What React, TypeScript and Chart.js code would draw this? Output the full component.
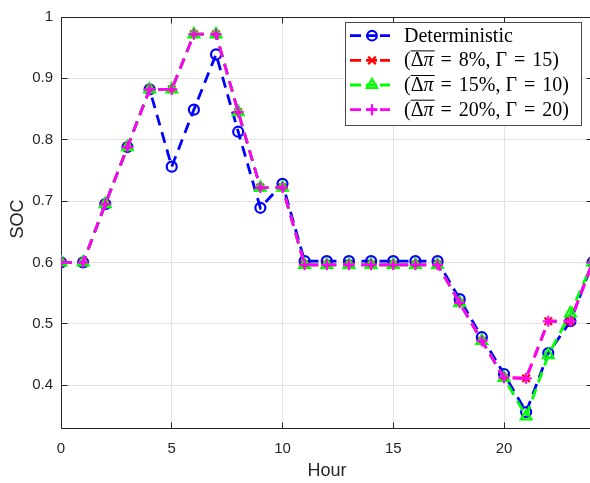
import { useEffect, useRef } from 'react';
import { Chart, registerables } from 'chart.js';

Chart.register(...registerables);

// Hour of day (x) and state of charge (y) for each strategy
const hours = [0, 1, 2, 3, 4, 5, 6, 7, 8, 9, 10, 11, 12, 13, 14, 15, 16, 17, 18, 19, 20, 21, 22, 23, 24];

const socDeterministic = [
  0.600, 0.600, 0.695, 0.788, 0.882, 0.756, 0.849, 0.939, 0.813, 0.689, 0.728, 0.602, 0.602,
  0.602, 0.602, 0.602, 0.602, 0.602, 0.540, 0.478, 0.418, 0.356, 0.452, 0.504, 0.600,
];
const socRobust8 = [
  0.600, 0.600, 0.695, 0.788, 0.882, 0.882, 0.972, 0.972, 0.845, 0.722, 0.722, 0.596, 0.596,
  0.596, 0.596, 0.596, 0.596, 0.596, 0.534, 0.472, 0.412, 0.411, 0.504, 0.504, 0.600,
];
const socRobust15 = [
  0.600, 0.600, 0.695, 0.788, 0.882, 0.882, 0.972, 0.972, 0.845, 0.722, 0.722, 0.596, 0.596,
  0.596, 0.596, 0.596, 0.596, 0.596, 0.534, 0.472, 0.412, 0.349, 0.449, 0.517, 0.600,
];
const socRobust20 = [
  0.600, 0.600, 0.695, 0.788, 0.882, 0.882, 0.972, 0.972, 0.845, 0.722, 0.722, 0.596, 0.596,
  0.596, 0.596, 0.596, 0.596, 0.596, 0.534, 0.472, 0.412, 0.411, 0.504, 0.504, 0.600,
];

const xTicks = [0, 5, 10, 15, 20];
const yTicks = [0.4, 0.5, 0.6, 0.7, 0.8, 0.9, 1];
const yTickLabels = ['0.4', '0.5', '0.6', '0.7', '0.8', '0.9', '1'];

const xTitle = 'Hour';
const yTitle = 'SOC';

// Legend: label 0 is plain, the others are (Δπ̄ = p%, Γ = g)
const legendPlain = 'Deterministic';
const legendPct = ['8', '15', '20'];
const legendGamma = ['15', '10', '20'];

const BLUE = '#0000ff';
const RED = '#ff0000';
const GREEN = '#00ff00';
const MAGENTA = '#ff00ff';
const AXIS = '#262626';
const GRID = '#e2e2e2';

const toPoints = (ys: number[]) => hours.map((h, i) => ({ x: h, y: ys[i] }));

function drawMarker(ctx: CanvasRenderingContext2D, style: string, x: number, y: number, color: string) {
  ctx.save();
  ctx.strokeStyle = color;
  ctx.lineWidth = 2.2;
  ctx.setLineDash([]);
  ctx.beginPath();
  if (style === 'circle') {
    ctx.arc(x, y, 4.8, 0, Math.PI * 2);
  } else if (style === 'crossRot') {
    const r = 3.8;
    ctx.moveTo(x - r, y - r); ctx.lineTo(x + r, y + r);
    ctx.moveTo(x - r, y + r); ctx.lineTo(x + r, y - r);
  } else if (style === 'triangle') {
    const r = 6;
    ctx.moveTo(x, y - r);
    ctx.lineTo(x + r * Math.sin(Math.PI * 2 / 3), y - r * Math.cos(Math.PI * 2 / 3));
    ctx.lineTo(x + r * Math.sin(Math.PI * 4 / 3), y - r * Math.cos(Math.PI * 4 / 3));
    ctx.closePath();
  } else if (style === 'cross') {
    const r = 5.5;
    ctx.moveTo(x - r, y); ctx.lineTo(x + r, y);
    ctx.moveTo(x, y - r); ctx.lineTo(x, y + r);
  }
  ctx.stroke();
  ctx.restore();
}

function drawMathLabel(ctx: CanvasRenderingContext2D, x0: number, base: number, pct: string, gamma: string) {
  const up = '20px "Liberation Serif"';
  const it = 'italic 20px "Liberation Serif"';
  let x = x0;
  const put = (t: string, font: string, gapAfter = 0) => {
    ctx.font = font;
    ctx.fillText(t, x, base);
    const w = ctx.measureText(t).width;
    const start = x;
    x += w + gapAfter;
    return [start, start + w];
  };
  put('(', up);
  const [ovStart] = put('Δ', up);
  const [, ovEnd] = put('π', it, 7);
  // bar over Δπ
  ctx.save();
  ctx.lineWidth = 1;
  ctx.strokeStyle = '#000';
  ctx.beginPath();
  ctx.moveTo(ovStart, base - 15.5);
  ctx.lineTo(ovEnd + 1, base - 15.5);
  ctx.stroke();
  ctx.restore();
  put('=', up, 7);
  put(pct + '%', up);
  put(',', up, 5);
  put('Γ', up, 7);
  put('=', up, 7);
  put(gamma, up);
  put(')', up);
}

const decorPlugin = {
  id: 'decor',
  beforeDatasetsDraw(chart: any) {
    const { ctx, chartArea: a, scales } = chart;
    const al = (p: number) => Math.round(p - 0.5) + 0.5;
    ctx.save();
    ctx.strokeStyle = AXIS;
    ctx.lineWidth = 1;
    const L = al(a.left), R = al(a.right), T = al(a.top), B = al(a.bottom);
    ctx.beginPath();
    ctx.moveTo(L, T); ctx.lineTo(R, T); ctx.lineTo(R, B); ctx.lineTo(L, B); ctx.closePath();
    const tl = 6;
    xTicks.forEach((v) => {
      const px = al(scales.x.getPixelForValue(v));
      ctx.moveTo(px, B); ctx.lineTo(px, B - tl);
      ctx.moveTo(px, T); ctx.lineTo(px, T + tl);
    });
    yTicks.forEach((v) => {
      const py = al(scales.y.getPixelForValue(v));
      ctx.moveTo(L, py); ctx.lineTo(L + tl, py);
      ctx.moveTo(R, py); ctx.lineTo(R - tl, py);
    });
    ctx.stroke();
    ctx.restore();
  },
  afterDraw(chart: any) {
    const { ctx } = chart;
    ctx.save();
    // axis titles
    ctx.fillStyle = AXIS;
    ctx.font = '18px "Liberation Sans"';
    ctx.textAlign = 'center';
    ctx.textBaseline = 'alphabetic';
    ctx.fillText(xTitle, 327, 476);
    ctx.save();
    ctx.translate(23, 219);
    ctx.rotate(-Math.PI / 2);
    ctx.fillText(yTitle, 0, 0);
    ctx.restore();

    // legend box
    const bx = 345.5, by = 22.5, bw = 236, bh = 103;
    ctx.fillStyle = '#fff';
    ctx.fillRect(bx, by, bw, bh);
    ctx.strokeStyle = '#4a4a4a';
    ctx.lineWidth = 1;
    ctx.strokeRect(bx, by, bw, bh);

    const entries = [
      { color: BLUE, marker: 'circle' },
      { color: RED, marker: 'crossRot' },
      { color: GREEN, marker: 'triangle' },
      { color: MAGENTA, marker: 'cross' },
    ];
    const baselines = [41.7, 66.4, 91, 115.7];
    entries.forEach((e, i) => {
      const cy = baselines[i] - 6;
      ctx.save();
      ctx.strokeStyle = e.color;
      ctx.lineWidth = 2.8;
      ctx.beginPath();
      ctx.moveTo(350, cy); ctx.lineTo(361, cy);
      ctx.moveTo(366, cy); ctx.lineTo(377, cy);
      ctx.moveTo(380, cy); ctx.lineTo(390, cy);
      ctx.stroke();
      ctx.restore();
      drawMarker(ctx, e.marker, 372, cy, e.color);
      ctx.fillStyle = '#000';
      ctx.textAlign = 'left';
      ctx.textBaseline = 'alphabetic';
      if (i === 0) {
        ctx.font = '20px "Liberation Serif"';
        ctx.fillText(legendPlain, 404, baselines[i]);
      } else {
        drawMathLabel(ctx, 404, baselines[i], legendPct[i - 1], legendGamma[i - 1]);
      }
    });
    ctx.restore();
  },
};

function makeDataset(label: string, ys: number[], color: string, style: string, radius: number, order: number) {
  return {
    label,
    data: toPoints(ys),
    borderColor: color,
    borderWidth: 2.8,
    borderDash: [11, 7],
    pointStyle: style,
    pointRadius: radius,
    pointBorderWidth: 2.2,
    pointBorderColor: color,
    pointBackgroundColor: 'rgba(0,0,0,0)',
    fill: false,
    tension: 0,
    order,
  };
}

export default function App() {
  const ref = useRef<HTMLCanvasElement>(null);

  useEffect(() => {
    if (!ref.current) return;
    const chart = new Chart(ref.current, {
      type: 'line',
      data: {
        datasets: [
          makeDataset('Deterministic', socDeterministic, BLUE, 'circle', 5, 4),
          makeDataset('8%', socRobust8, RED, 'crossRot', 5.2, 3),
          makeDataset('15%', socRobust15, GREEN, 'triangle', 6.2, 2),
          makeDataset('20%', socRobust20, MAGENTA, 'cross', 5.5, 1),
        ] as any,
      },
      options: {
        animation: false,
        responsive: false,
        devicePixelRatio: 1,
        layout: { padding: { top: 10, right: 3, left: 0, bottom: 0 } },
        plugins: { legend: { display: false }, tooltip: { enabled: false } },
        scales: {
          x: {
            type: 'linear',
            min: 0,
            max: 24,
            afterBuildTicks: (s: any) => { s.ticks = xTicks.map((v) => ({ value: v })); },
            afterFit: (s: any) => { s.height = 55; },
            grid: { color: GRID, lineWidth: 1, drawTicks: false },
            border: { display: false },
            ticks: {
              padding: 12,
              color: AXIS,
              autoSkip: false,
              maxRotation: 0,
              font: { family: '"Liberation Sans"', size: 15 },
              callback: (v: any) => String(v),
            },
          },
          y: {
            type: 'linear',
            min: 0.33,
            max: 1,
            afterBuildTicks: (s: any) => { s.ticks = yTicks.map((v) => ({ value: v })); },
            afterFit: (s: any) => { s.width = 61; },
            grid: { color: GRID, lineWidth: 1, drawTicks: false },
            border: { display: false },
            ticks: {
              padding: 8,
              color: AXIS,
              autoSkip: false,
              font: { family: '"Liberation Sans"', size: 15 },
              callback: (_v: any, i: number) => yTickLabels[i],
            },
          },
        },
      } as any,
      plugins: [decorPlugin],
    });
    return () => chart.destroy();
  }, []);

  return (
    <div style={{ position: 'fixed', left: 0, top: 0, width: 590, height: 483, overflow: 'hidden', background: '#fff' }}>
      <canvas ref={ref} width={601} height={483} style={{ display: 'block', width: 601, height: 483 }} />
    </div>
  );
}
